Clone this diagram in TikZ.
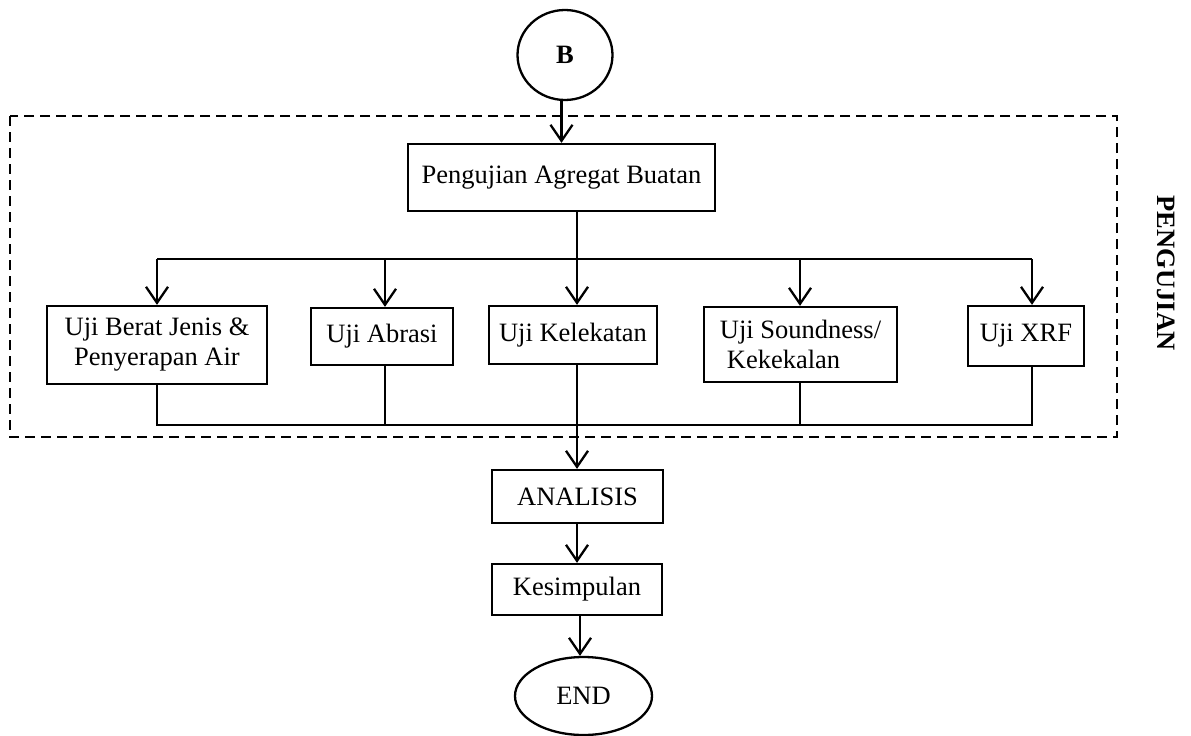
\documentclass[tikz,border=0pt]{standalone}
\usepackage{fontspec}
\setmainfont{Liberation Serif}
\usetikzlibrary{arrows.meta,shapes.geometric}
\begin{document}
\begin{tikzpicture}[x=1pt,y=-1pt,
  every node/.style={font=\fontsize{26.5}{30}\selectfont, inner sep=0pt},
  box/.style={draw, line width=2.3pt, rectangle, align=center},
  conn/.style={line width=2.3pt},
  arr/.style={line width=2.3pt, -{Straight Barb[length=16pt,width=22pt,line width=2.3pt]}},
  frame/.style={line width=1.3pt, dash pattern=on 10pt off 6pt}]
\useasboundingbox (0,0) rectangle (1191,736);
\draw[frame] (10,116) rectangle (1117,437);
\node[draw, line width=2.3pt, ellipse, minimum width=95pt, minimum height=90pt, font=\fontsize{26.5}{30}\selectfont\bfseries] (B) at (565,55) {B};
\node[box, minimum width=307pt, minimum height=67pt] (peng) at (561.5,177.5) {Pengujian Agregat Buatan};
\node[box, minimum width=220pt, minimum height=78pt] (u1) at (157,345) {Uji Berat Jenis \&\\Penyerapan Air};
\node[box, minimum width=142pt, minimum height=57pt] (u2) at (382,336.5) {Uji Abrasi};
\node[box, minimum width=168pt, minimum height=58pt] (u3) at (573,335) {Uji Kelekatan};
\node[box, minimum width=193pt, minimum height=75pt, align=left] (u4) at (800.5,344.5) {Uji Soundness/\\\hspace{7pt}Kekekalan};
\node[box, minimum width=116pt, minimum height=60pt] (u5) at (1026,336) {Uji XRF};
\node[box, minimum width=171pt, minimum height=53pt] (ana) at (577.5,496.5) {ANALISIS};
\node[box, minimum width=170pt, minimum height=51pt] (kes) at (577,589.5) {Kesimpulan};
\node[draw, line width=2.3pt, ellipse, minimum width=137pt, minimum height=78pt] (end) at (583.5,696) {END};
\node[rotate=-90, font=\fontsize{26.5}{30}\selectfont\bfseries] (lab) at (1166,273) {PENGUJIAN};
\coordinate (top) at (577,259);
\coordinate (bot) at (577,425);
\coordinate (a1) at (157,259);
\coordinate (a2) at (385,259);
\coordinate (a4) at (800,259);
\coordinate (a5) at (1032,259);
\coordinate (e0) at (580,615);
\draw[arr] (B.south -| peng.north) -- (peng.north);
\draw[conn] (peng.south -| top) -- (top);
\draw[conn] (a1) -- (a5);
\draw[arr] (a1) -- (a1 |- u1.north);
\draw[arr] (a2) -- (a2 |- u2.north);
\draw[arr] (top) -- (top |- u3.north);
\draw[arr] (a4) -- (a4 |- u4.north);
\draw[arr] (a5) -- (a5 |- u5.north);
\draw[conn] (a1 |- u1.south) -- (a1 |- bot) -- (a5 |- bot) -- (a5 |- u5.south);
\draw[conn] (a2 |- u2.south) -- (a2 |- bot);
\draw[conn] (a4 |- u4.south) -- (a4 |- bot);
\draw[arr] (top |- u3.south) -- (top |- ana.north);
\draw[arr] (top |- ana.south) -- (top |- kes.north);
\draw[arr] (e0) -- (e0 |- end.north);
\end{tikzpicture}
\end{document}
